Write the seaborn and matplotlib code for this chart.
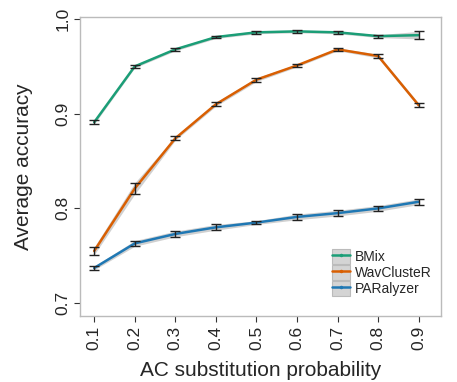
import numpy as np
import pandas as pd
import matplotlib
matplotlib.use("Agg")
import matplotlib.pyplot as plt
import seaborn as sns
from matplotlib.lines import Line2D
from matplotlib.patches import Patch
from matplotlib.legend_handler import HandlerTuple

# data
probs = [0.1, 0.2, 0.3, 0.4, 0.5, 0.6, 0.7, 0.8, 0.9]
bmix = [0.891, 0.950, 0.968, 0.981, 0.986, 0.987, 0.986, 0.982, 0.983]
wav = [0.755, 0.821, 0.874, 0.910, 0.936, 0.951, 0.968, 0.961, 0.909]
par = [0.737, 0.763, 0.773, 0.780, 0.785, 0.791, 0.795, 0.800, 0.807]
bmix_err = [0.002, 0.0015, 0.0015, 0.0015, 0.0015, 0.0015, 0.0015, 0.0015, 0.004]
wav_err = [0.004, 0.006, 0.002, 0.002, 0.002, 0.0015, 0.0015, 0.002, 0.002]
par_err = [0.002, 0.003, 0.003, 0.003, 0.002, 0.003, 0.003, 0.003, 0.003]
methods = ["BMix", "WavClusteR", "PARalyzer"]
colors = ["#1b9e77", "#d95f02", "#1f78b4"]

df = pd.DataFrame({
    "prob": probs * 3,
    "acc": bmix + wav + par,
    "err": bmix_err + wav_err + par_err,
    "method": sum([[m] * len(probs) for m in methods], []),
})

sns.set_style("white")
plt.rcParams["font.family"] = ["Liberation Sans", "DejaVu Sans"]

fig, ax = plt.subplots(figsize=(4.57, 3.82), dpi=100)

# grey ribbons + error bars
for m, c in zip(methods, colors):
    sub = df[df["method"] == m]
    ax.fill_between(sub["prob"], sub["acc"] - sub["err"], sub["acc"] + sub["err"],
                    color="#bdbdbd", alpha=0.7, lw=0, zorder=1)

sns.lineplot(data=df, x="prob", y="acc", hue="method", palette=colors,
             hue_order=methods, linewidth=1.8, legend=False, ax=ax, zorder=2)

for m in methods:
    sub = df[df["method"] == m]
    ax.errorbar(sub["prob"], sub["acc"], yerr=sub["err"], fmt="none",
                ecolor="#222222", elinewidth=1, capsize=3.5, capthick=1, zorder=3)

ax.set_xlim(0.065, 0.955)
ax.set_ylim(0.686, 1.002)
ax.set_xticks(probs)
ax.set_xticklabels([str(p) for p in probs], rotation=90, fontsize=12.5)
ax.set_yticks([0.7, 0.8, 0.9, 1.0])
ax.set_yticklabels(["0.7", "0.8", "0.9", "1.0"], rotation=90, va="center", fontsize=12.5)
ax.tick_params(axis="both", length=4, color="#333333", direction="out",
               bottom=True, left=True, pad=3)
ax.set_xlabel("AC substitution probability", fontsize=15, labelpad=8)
ax.set_ylabel("Average accuracy", fontsize=15, labelpad=16)
for s in ax.spines.values():
    s.set_color("#bbbbbb")
    s.set_linewidth(1)

handles = []
for c in colors:
    handles.append((Patch(facecolor="#d4d4d4", edgecolor="#bbbbbb", lw=0.8),
                    Line2D([], [], color=c, lw=1.8, marker=".", markersize=3)))
ax.legend(handles, methods, handler_map={tuple: HandlerTuple(ndivide=1)},
          loc="lower right", bbox_to_anchor=(1.0, 0.035), frameon=False,
          fontsize=10, handlelength=1.3, handleheight=1.3, handletextpad=0.3,
          labelspacing=0.05, borderpad=0.2)

fig.subplots_adjust(left=0.175, right=0.965, top=0.955, bottom=0.172)
fig.savefig("out.png", dpi=100)
